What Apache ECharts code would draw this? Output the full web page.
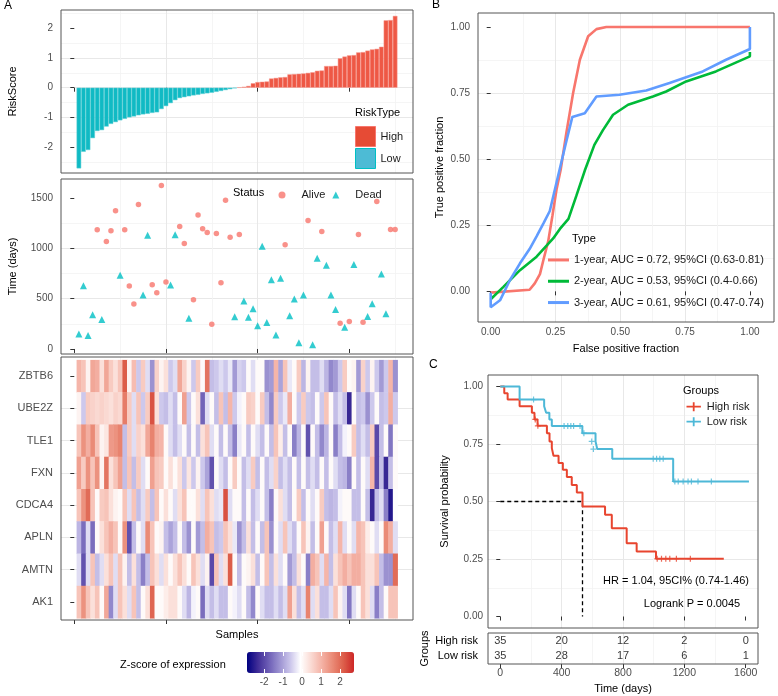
<!DOCTYPE html>
<html><head><meta charset="utf-8">
<script src="https://cdn.jsdelivr.net/npm/echarts@6/dist/echarts.min.js"></script>
<style>html,body{margin:0;padding:0;background:#fff}#c{width:778px;height:696px}</style>
</head><body><div id="c"></div>
<script>
// ---------- DATA ----------
const riskLow = [-2.72,-2.16,-2.1,-1.7,-1.46,-1.43,-1.31,-1.22,-1.16,-1.1,-1.05,-1.0,-0.97,-0.93,-0.9,-0.88,-0.85,-0.83,-0.72,-0.62,-0.52,-0.42,-0.35,-0.32,-0.29,-0.26,-0.24,-0.21,-0.19,-0.17,-0.14,-0.11,-0.08,-0.05,-0.02];
const riskHigh = [0.01,0.03,0.06,0.15,0.19,0.2,0.21,0.31,0.33,0.35,0.36,0.45,0.46,0.47,0.48,0.5,0.52,0.57,0.58,0.73,0.73,0.74,0.99,1.05,1.09,1.1,1.19,1.2,1.25,1.29,1.31,1.38,2.27,2.28,2.42];
const survTime = [150,630,133,340,1187,293,1070,1177,1377,733,1187,627,447,1437,537,1133,640,560,1627,667,637,1137,1220,1050,307,490,1333,1197,1160,247,1150,660,1480,1113,320,1140,477,317,400,230,1023,263,690,140,703,1037,330,497,63,537,1280,43,903,1170,833,537,393,257,217,273,840,1140,267,323,450,1467,747,350,1190,1190];
const survStatus = ['Dead','Dead','Dead','Dead','Alive','Dead','Alive','Alive','Alive','Dead','Alive','Alive','Alive','Alive','Dead','Dead','Alive','Alive','Alive','Alive','Dead','Dead','Alive','Alive','Dead','Alive','Alive','Alive','Alive','Alive','Alive','Alive','Alive','Alive','Dead','Alive','Dead','Dead','Dead','Dead','Dead','Dead','Dead','Dead','Dead','Alive','Dead','Dead','Dead','Dead','Alive','Dead','Dead','Alive','Dead','Dead','Dead','Alive','Dead','Alive','Dead','Alive','Alive','Dead','Dead','Alive','Dead','Dead','Alive','Alive'];
const sampleTicks = [0,20,40,60];

const genes = ['ZBTB6','UBE2Z','TLE1','FXN','CDCA4','APLN','AMTN','AK1'];
const exprZBTB6 = [1.0,0.8,0.1,1.2,1.1,0.4,1.2,0.7,0.4,0.8, 2.2,0.1,0.9,-0.6,0.7,-0.4,-1.2,0.6,0.1,0.4, -0.6,-0.4,1.2,0.6,0.1,-0.6,0.7,0.0,1.9,-0.7, -0.6,-0.4,-0.6,-0.3,-1.1,-0.5,-0.6,0.0,-0.4,0.0, 0.0,-1.2,-1.1,1.0,-1.0,0.8,-0.3,0.0,0.7,-0.8, 0.1,-0.7,-0.7,-0.4,-0.8,-1.3,-1.1,-0.6,0.7,0.0, 0.1,-1.1,0.6,-0.6,0.1,-0.6,-1.1,-0.6,1.0,-1.2];
const exprUBE2Z = [0.1,-0.6,0.7,0.6,0.5,0.6,0.5,0.4,0.6,0.5, 1.8,0.7,-0.4,0.8,-0.6,0.7,2.3,0.4,-0.6,-0.7, -0.4,-0.7,0.0,1.3,-0.6,0.0,0.4,-1.7,-0.4,0.0, -0.7,0.8,-0.7,1.0,-0.6,-0.2,0.0,0.7,0.6,0.0, 0.7,-0.7,-1.3,0.7,-0.6,-0.3,1.1,0.0,-0.6,0.7, -0.6,-0.7,0.0,-0.6,0.8,0.0,-0.7,-0.4,-0.7,-2.4, 0.0,-0.7,-0.6,-1.2,-0.6,0.0,-0.7,-0.6,1.1,-0.6];
const exprTLE1 = [0.8,1.5,1.1,1.6,0.8,0.1,0.3,1.4,1.5,1.7, -0.7,0.7,-0.4,0.6,0.4,1.2,1.7,1.1,1.0,0.0, -0.4,-0.7,-0.4,0.0,-0.7,0.0,-0.7,0.4,0.8,-0.4, 0.0,-0.7,0.0,-0.7,-1.4,-0.3,0.0,-0.7,0.0,-0.4, -0.7,0.0,-0.7,0.8,0.2,-0.7,0.0,-1.4,-0.8,0.0, -1.9,0.0,-0.7,-1.3,-0.8,0.0,-1.4,-0.7,-0.2,0.0, 0.7,-0.7,-0.4,-0.7,0.7,-2.0,-0.7,0.0,-1.5,0.0];
const exprFXN = [1.3,0.7,1.5,0.8,1.5,0.1,1.9,0.4,0.8,1.3, -0.7,0.8,-0.7,0.7,-0.4,0.0,1.3,0.8,0.7,0.0, 0.4,0.0,0.4,-0.6,0.3,-0.6,0.1,-0.6,-1.0,-1.9, 0.0,-0.4,-0.7,0.0,0.7,0.0,-0.7,-0.4,0.7,-0.7, 0.0,-0.7,-0.4,0.6,-0.7,-0.4,-0.7,0.0,-0.7,0.0, -0.7,-0.4,-0.7,0.0,-0.7,0.0,-0.4,-0.7,-0.8,-1.4, 0.0,-0.7,0.0,-0.4,1.0,-2.0,-0.7,-2.4,-0.7,0.0];
const exprCDCA4 = [0.8,1.5,2.0,0.8,0.0,0.7,0.8,0.4,0.1,0.0, 0.8,-0.4,0.8,-0.7,-0.4,0.7,-0.7,0.8,0.0,0.4, 0.0,-0.4,0.4,0.8,0.0,0.0,0.4,-0.4,0.8,0.4, -0.4,-0.3,2.3,-0.4,0.0,0.0,-0.7,0.0,-0.7,-0.4, 0.0,-0.7,-1.4,0.0,0.4,-0.4,-0.7,0.0,0.7,-0.7, 0.0,-0.4,0.0,0.7,-0.7,-0.8,-0.7,-0.2,0.0,0.0, -0.7,-0.7,0.0,-0.7,-2.4,-0.7,-0.4,-1.4,-2.6,-0.1];
const exprAPLN = [-0.8,-1.6,-0.4,-1.6,0.0,0.4,0.8,1.1,0.8,0.0, 1.5,-1.9,-0.7,0.0,-0.4,1.6,0.8,0.0,0.1,-0.7, -1.0,-0.7,0.0,-0.7,-1.2,0.0,-1.1,-0.7,1.1,0.8, -0.7,-0.6,0.8,0.4,-0.3,-1.2,-0.7,0.4,-0.7,0.0, -0.7,0.8,-1.2,0.0,-0.4,0.8,-0.4,-0.7,0.0,0.8, 0.1,-0.7,0.0,1.3,0.0,-0.7,-0.4,1.0,-0.4,0.0, -0.4,1.0,0.8,0.2,0.0,-0.4,0.0,1.6,1.1,-0.4];
const exprAMTN = [-0.4,-1.9,-0.4,0.8,-0.7,-0.4,0.4,0.8,-0.4,0.8, 0.1,-0.7,0.4,-0.7,-1.4,-0.7,0.8,0.4,-0.4,0.4, 0.0,0.4,0.8,0.4,0.0,0.8,0.4,-0.4,0.1,-2.0, 0.8,-0.4,0.4,2.2,0.0,-0.7,0.0,0.1,0.4,-0.7, 0.0,0.8,-0.7,0.4,-0.4,0.0,-1.1,-0.7,0.4,0.0, -1.4,1.1,0.8,-0.4,1.0,-0.7,0.4,0.8,1.1,0.8, 1.1,1.1,0.8,0.4,0.4,0.8,-0.7,-1.2,-1.2,2.0];
const exprAK1 = [0.8,1.5,0.8,0.4,0.8,0.0,1.2,-1.3,-0.4,0.8, 0.4,-0.4,0.8,-0.7,0.0,0.4,2.1,0.0,0.0,0.2, 0.4,0.4,0.0,-0.4,-0.8,-0.2,0.0,-1.6,-0.4,-0.7, -0.4,-0.7,-0.7,0.0,-0.2,-0.4,0.0,-0.7,-1.3,0.0, -0.4,-0.7,-0.7,-0.4,-0.7,-0.4,1.3,0.4,-0.7,-0.4, 1.7,-0.4,0.4,-0.7,-0.7,-0.4,0.8,0.1,-0.4,-1.5, -0.4,0.0,0.8,0.4,-0.4,-1.4,-0.7,0.0,0.8,0.8];
const exprRows = [exprZBTB6, exprUBE2Z, exprTLE1, exprFXN, exprCDCA4, exprAPLN, exprAMTN, exprAK1];
const zTicks = [-2,-1,0,1,2];

const rocNames = ['1-year, AUC = 0.72, 95%CI (0.63-0.81)','2-year, AUC = 0.53, 95%CI (0.4-0.66)','3-year, AUC = 0.61, 95%CI (0.47-0.74)'];
const roc1Year = [[0,-0.005],[0.15,0.006],[0.17,0.03],[0.19,0.065],[0.205,0.125],[0.222,0.19],[0.238,0.285],[0.254,0.385],[0.27,0.46],[0.292,0.6],[0.318,0.75],[0.344,0.876],[0.376,0.965],[0.408,0.992],[0.446,1.0],[1.0,1.0]];
const roc2Year = [[0,-0.03],[0.049,0.017],[0.113,0.08],[0.177,0.131],[0.241,0.2],[0.267,0.236],[0.3,0.274],[0.33,0.36],[0.363,0.457],[0.4,0.554],[0.433,0.61],[0.472,0.668],[0.53,0.706],[0.626,0.737],[0.677,0.756],[0.754,0.794],[0.869,0.832],[1.0,0.889],[1.0,0.905]];
const roc3Year = [[0,-0.005],[0,-0.06],[0.036,-0.034],[0.074,0.042],[0.113,0.106],[0.15,0.16],[0.177,0.208],[0.205,0.26],[0.228,0.304],[0.254,0.412],[0.29,0.56],[0.315,0.66],[0.363,0.674],[0.408,0.737],[0.497,0.744],[0.6,0.76],[0.69,0.788],[0.818,0.832],[0.908,0.876],[1.0,0.917],[1.0,1.0]];
const rocTicks = [0,0.25,0.5,0.75,1];

const kmHigh = [[0,1],[26,0.971],[48,0.943],[126,0.914],[206,0.886],[223,0.857],[243,0.829],[304,0.797],[321,0.761],[336,0.732],[347,0.699],[380,0.667],[408,0.638],[434,0.606],[466,0.572],[499,0.539],[536,0.478],[683,0.442],[727,0.384],[824,0.319],[889,0.283],[1015,0.251],[1457,0.251]];
const kmLow = [[0,1],[126,0.943],[286,0.914],[299,0.886],[320,0.857],[336,0.828],[535,0.797],[621,0.761],[632,0.728],[730,0.686],[1127,0.587],[1621,0.587]];
const kmHighCensor = [[228,0.857],[245,0.829],[1023,0.251],[1051,0.251],[1079,0.251],[1105,0.251],[1148,0.251],[1239,0.251]];
const kmLowCensor = [[217,0.943],[416,0.828],[440,0.828],[460,0.828],[478,0.828],[520,0.828],[545,0.797],[596,0.761],[607,0.728],[997,0.686],[1019,0.686],[1040,0.686],[1062,0.686],[1138,0.587],[1160,0.587],[1192,0.587],[1224,0.587],[1246,0.587],[1289,0.587],[1376,0.587]];
const kmMedian = [[0,0.5],[536,0.5],[536,0]];
const kmTicks = [0,400,800,1200,1600];
const survTicks = [0,0.25,0.5,0.75,1];
const riskTableTimes = [0,400,800,1200,1600];
const atRiskHigh = [35,20,12,2,0];
const atRiskLow = [35,28,17,6,1];

// ---------- CHART ----------
const FONT = 'Liberation Sans';
const TXT = '#4D4D4D';
const plain = v => String(v);
function vAxis(gridIndex, min, max, step, ticks, o) {
  o = o || {};
  return {
    type: 'value', gridIndex, min, max, minInterval: step, maxInterval: step,
    position: o.position,
    axisLine: {show: false},
    axisTick: {show: o.tick !== false, customValues: ticks, length: o.tickLen || 4, inside: !!o.inside,
      lineStyle: {color: o.tickColor || '#333333', width: 1}},
    axisLabel: {show: !!o.labels, customValues: ticks, fontSize: o.fontSize || 10, color: o.labelColor || TXT,
      margin: o.margin == null ? 6 : o.margin, formatter: o.fmt || plain, fontFamily: FONT},
    splitLine: {show: o.grid !== false, showMinLine: false, showMaxLine: false, lineStyle: {color: '#E8E8E8', width: 1}},
    minorTick: {show: false, splitNumber: 2},
    minorSplitLine: {show: o.minor !== false && o.grid !== false, lineStyle: {color: '#F2F2F2', width: 0.8}},
    name: o.name, nameLocation: 'middle', nameGap: o.nameGap,
    nameTextStyle: {fontSize: 11, color: '#000', fontFamily: FONT},
    z: o.z
  };
}
const f2 = v => v.toFixed(2);
const gridBase = {show: true, z: 3, backgroundColor: 'transparent', borderColor: '#555', borderWidth: 1, containLabel: false};

const lowBars = riskLow.map((v, i) => [i + 1, v]);
const highBars = riskHigh.map((v, i) => [riskLow.length + i + 1, v]);
const alivePts = [], deadPts = [];
survTime.forEach((t, i) => (survStatus[i] === 'Alive' ? alivePts : deadPts).push([i + 1, t]));
const heatData = [];
exprRows.forEach((row, r) => row.forEach((v, i) => heatData.push([i + 1, genes.length - r, v])));
const geneBottomUp = genes.slice().reverse();

const kmPlus = 'path://M4,0H6V4H10V6H6V10H4V6H0V4H4Z';
const kmLegendIcon = 'path://M0,4H7V0H9V4H16V6H9V10H7V6H0Z';

const series = [
  {name: 'High', type: 'bar', xAxisIndex: 0, yAxisIndex: 0, data: highBars, barWidth: '100%', barGap: '-100%',
   itemStyle: {color: '#EE5845', borderColor: '#F7978C', borderWidth: 0.5}},
  {name: 'Low', type: 'bar', xAxisIndex: 0, yAxisIndex: 0, data: lowBars, barWidth: '100%', barGap: '-100%',
   itemStyle: {color: '#10BAC4', borderColor: '#5FD0D6', borderWidth: 0.5}},
  {name: 'Alive', type: 'scatter', xAxisIndex: 1, yAxisIndex: 1, data: alivePts, symbol: 'circle', symbolSize: 5.5,
   itemStyle: {color: '#F8766D'}},
  {name: 'Dead', type: 'scatter', xAxisIndex: 1, yAxisIndex: 1, data: deadPts, symbol: 'triangle', symbolSize: 7,
   itemStyle: {color: '#00BFC4'}},
  {name: 'expr', type: 'custom', xAxisIndex: 2, yAxisIndex: 2, data: heatData, encode: {x: 0, y: 1},
   renderItem: function (params, api) {
     const x = api.value(0), y = api.value(1);
     const a = api.coord([x - 0.5, y + 0.5]);
     const b = api.coord([x + 0.5, y - 0.5]);
     return {type: 'rect', shape: {x: a[0], y: a[1], width: b[0] - a[0] + 0.5, height: b[1] - a[1] + 0.5},
       style: {fill: api.visual('color')}};
   }},
  {name: rocNames[0], type: 'line', xAxisIndex: 3, yAxisIndex: 3, data: roc1Year, symbol: 'none',
   lineStyle: {color: '#F8766D', width: 2.6}, itemStyle: {color: '#F8766D'}},
  {name: rocNames[1], type: 'line', xAxisIndex: 3, yAxisIndex: 3, data: roc2Year, symbol: 'none',
   lineStyle: {color: '#00BA38', width: 2.6}, itemStyle: {color: '#00BA38'}},
  {name: rocNames[2], type: 'line', xAxisIndex: 3, yAxisIndex: 3, data: roc3Year, symbol: 'none',
   lineStyle: {color: '#619CFF', width: 2.6}, itemStyle: {color: '#619CFF'}},
  {name: 'median', type: 'line', xAxisIndex: 4, yAxisIndex: 4, data: kmMedian, symbol: 'none',
   lineStyle: {color: '#000', width: 1.3, type: [4, 3]}},
  {name: 'High risk', type: 'line', xAxisIndex: 4, yAxisIndex: 4, data: kmHigh, step: 'end', symbol: 'none',
   lineStyle: {color: '#E8452F', width: 2}, itemStyle: {color: '#E8452F'}},
  {name: 'Low risk', type: 'line', xAxisIndex: 4, yAxisIndex: 4, data: kmLow, step: 'end', symbol: 'none',
   lineStyle: {color: '#4DB8D7', width: 2}, itemStyle: {color: '#4DB8D7'}},
  {name: 'High censor', type: 'scatter', xAxisIndex: 4, yAxisIndex: 4, data: kmHighCensor, symbol: kmPlus, symbolSize: 6,
   itemStyle: {color: '#E8452F'}},
  {name: 'Low censor', type: 'scatter', xAxisIndex: 4, yAxisIndex: 4, data: kmLowCensor, symbol: kmPlus, symbolSize: 6,
   itemStyle: {color: '#4DB8D7'}},
  {name: 'tableHigh', type: 'scatter', xAxisIndex: 5, yAxisIndex: 5,
   data: riskTableTimes.map((t, i) => [t, 'High risk', atRiskHigh[i]]), symbolSize: 1, itemStyle: {color: 'transparent'},
   label: {show: true, position: 'inside', formatter: p => String(p.value[2]), fontSize: 11, color: '#000', fontFamily: FONT}},
  {name: 'tableLow', type: 'scatter', xAxisIndex: 5, yAxisIndex: 5,
   data: riskTableTimes.map((t, i) => [t, 'Low risk', atRiskLow[i]]), symbolSize: 1, itemStyle: {color: 'transparent'},
   label: {show: true, position: 'inside', formatter: p => String(p.value[2]), fontSize: 11, color: '#000', fontFamily: FONT}}
];

const txt = (x, y, s, size, align) => ({type: 'text', x, y, z: 100,
  style: {text: s, fill: '#000', font: size + 'px ' + FONT, align: align || 'left', verticalAlign: 'middle'}});

const option = {
  animation: false,
  backgroundColor: '#fff',
  textStyle: {fontFamily: FONT},
  grid: [
    Object.assign({left: 61, top: 10, width: 352, height: 163}, gridBase),
    Object.assign({left: 61, top: 179, width: 352, height: 175}, gridBase),
    Object.assign({left: 61, top: 357, width: 352, height: 263}, gridBase),
    Object.assign({left: 478, top: 13, width: 296, height: 309}, gridBase),
    Object.assign({left: 488, top: 375, width: 270, height: 253}, gridBase),
    Object.assign({left: 488, top: 633, width: 270, height: 31}, gridBase),
    {left: 247, top: 652, width: 107, height: 21, show: false}
  ],
  xAxis: [
    vAxis(0, -2.9, 73.9, 20, sampleTicks, {}),
    vAxis(1, -2.9, 73.9, 20, sampleTicks, {}),
    vAxis(2, -2.9, 73.9, 20, sampleTicks, {name: 'Samples', nameGap: 9}),
    vAxis(3, -0.049, 1.093, 0.25, rocTicks, {labels: true, fmt: f2, margin: 5, name: 'False positive fraction', nameGap: 21}),
    vAxis(4, -80, 1680, 400, kmTicks, {}),
    vAxis(5, -80, 1680, 400, kmTicks, {labels: true, margin: 4, fontSize: 10.5, name: 'Time (days)', nameGap: 19}),
    vAxis(6, -2.9, 2.74, 1, zTicks, {labels: true, margin: 4, inside: true, tickColor: '#fff', grid: false, z: 10}),
    vAxis(6, -2.9, 2.74, 1, zTicks, {position: 'top', inside: true, tickColor: '#fff', grid: false, z: 10})
  ],
  yAxis: [
    vAxis(0, -2.875, 2.619, 1, [-2,-1,0,1,2], {labels: true, margin: 8, name: 'RiskScore', nameGap: 43}),
    vAxis(1, -50, 1692, 500, [0,500,1000,1500], {labels: true, margin: 8, name: 'Time (days)', nameGap: 43}),
    vAxis(2, 0.44, 8.59, 1, [1,2,3,4,5,6,7,8], {labels: true, margin: 8, fontSize: 11, minor: false,
      fmt: v => geneBottomUp[Math.round(v) - 1]}),
    vAxis(3, -0.116, 1.053, 0.25, rocTicks, {labels: true, fmt: f2, margin: 8, name: 'True positive fraction', nameGap: 33}),
    vAxis(4, -0.05, 1.05, 0.25, survTicks, {labels: true, fmt: f2, margin: 5, name: 'Survival probability', nameGap: 38}),
    {type: 'category', gridIndex: 5, data: ['Low risk', 'High risk'],
     axisLine: {show: false}, axisTick: {length: 4, alignWithLabel: true, lineStyle: {color: '#333'}},
     axisLabel: {fontSize: 11, color: '#000', margin: 10, fontFamily: FONT}, splitLine: {show: false},
     name: 'Groups', nameLocation: 'middle', nameGap: 58, nameTextStyle: {fontSize: 11, color: '#000', fontFamily: FONT}},
    {type: 'value', gridIndex: 6, min: 0, max: 1, show: false}
  ],
  visualMap: {
    type: 'continuous', seriesIndex: 4, dimension: 2, min: -2.9, max: 2.74,
    orient: 'horizontal', left: 247, top: 652, itemWidth: 21, itemHeight: 107, padding: 0,
    calculable: false, text: null, hoverLink: false, show: true,
    inRange: {color: ['#000080','#3F2C97','#6C5DB5','#9A90D0','#C9C3EA','#FFFFFF','#FADAD3','#F4B2A5','#EA8A76','#DD5F4B','#CD2626']}
  },
  legend: [
    {data: [{name: 'High', itemStyle: {color: '#E64B35', borderColor: '#F8766D', borderWidth: 1}},
            {name: 'Low', itemStyle: {color: '#4DBBD5', borderColor: '#00BFC4', borderWidth: 1}}],
     orient: 'vertical', left: 355, top: 126, itemWidth: 20, itemHeight: 20, itemGap: 1, icon: 'rect', padding: 0,
     selectedMode: false, textStyle: {fontSize: 11, color: '#1a1a1a', fontFamily: FONT}},
    {data: [{name: 'Alive', icon: 'circle'}, {name: 'Dead', icon: 'triangle'}],
     orient: 'horizontal', left: 278.5, top: 189.5, itemWidth: 7, itemHeight: 7, itemGap: 7, padding: 0,
     selectedMode: false, textStyle: {fontSize: 11, color: '#1a1a1a', padding: [0, 0, 0, 11], fontFamily: FONT}},
    {data: rocNames.map(n => ({name: n, icon: 'rect'})),
     orient: 'vertical', left: 548, top: 249.3, itemWidth: 21, itemHeight: 3, itemGap: 0, padding: 0,
     selectedMode: false, textStyle: {fontSize: 11, color: '#1a1a1a', lineHeight: 21.3, fontFamily: FONT}},
    {data: [{name: 'High risk', icon: kmLegendIcon, itemStyle: {color: '#E8452F'}},
            {name: 'Low risk', icon: kmLegendIcon, itemStyle: {color: '#4DB8D7'}}],
     orient: 'vertical', left: 686.5, top: 399.2, itemWidth: 16, itemHeight: 9, itemGap: 0, padding: 0,
     selectedMode: false, textStyle: {fontSize: 11, color: '#1a1a1a', lineHeight: 15, fontFamily: FONT}}
  ],
  graphic: [
    txt(4, 6, 'A', 12), txt(432, 5, 'B', 12), txt(429, 365, 'C', 12),
    txt(355, 113, 'RiskType', 11), txt(233, 193, 'Status', 11), txt(572, 239, 'Type', 11),
    txt(683, 391, 'Groups', 11), txt(120, 665, 'Z-score of expression', 11),
    txt(676, 581, 'HR = 1.04, 95CI% (0.74-1.46)', 11, 'center'),
    txt(692, 604, 'Logrank P = 0.0045', 11, 'center')
  ],
  series: series
};
const chart = echarts.init(document.getElementById('c'), null, {renderer: 'canvas'});
chart.setOption(option);
</script></body></html>
